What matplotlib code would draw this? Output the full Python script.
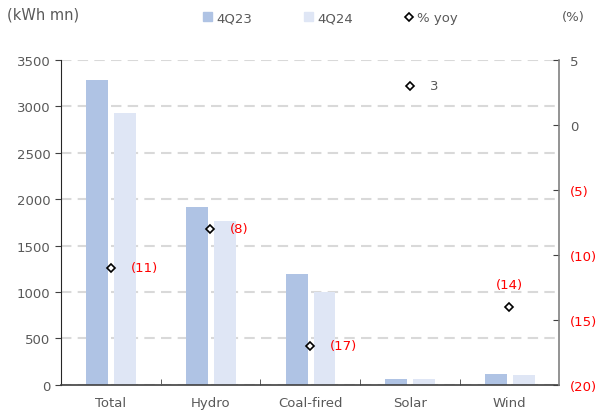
import numpy as np
import matplotlib.pyplot as plt
from matplotlib.lines import Line2D
from matplotlib.patches import Patch

categories = ["Total", "Hydro", "Coal-fired", "Solar", "Wind"]
gen_4q23 = [3285, 1917, 1195, 65, 118]
gen_4q24 = [2929, 1766, 1005, 60, 108]
yoy = [-11, -8, -17, 3, -14]

c23 = "#afc3e4"
c24 = "#dfe6f5"
grey = "#595959"

def pct_label(v):
    return f"({abs(v)})" if v < 0 else f"{v}"

fig = plt.figure(figsize=(5.98, 4.14), dpi=100)
ax = fig.add_axes([0.102, 0.068, 0.833, 0.785])
ax2 = ax.twinx()

x = np.arange(len(categories))
w = 0.22
ax.bar(x - 0.135, gen_4q23, w, color=c23, zorder=2)
ax.bar(x + 0.145, gen_4q24, w, color=c24, zorder=2)

ax.set_xlim(-0.5, len(categories) - 0.5)
ax.set_ylim(0, 3500)
ax.set_yticks(np.arange(0, 3501, 500))
ax.yaxis.grid(True, color="#d9d9d9", linestyle=(0, (5, 3)), linewidth=1.5, zorder=0)
ax.set_axisbelow(True)
ax.set_xticks(x)
ax.set_xticklabels(categories)
ax.set_xticks(np.arange(0.5, len(categories) - 0.5, 1), minor=True)
ax.tick_params(axis="x", which="major", length=0, pad=8, labelsize=9.5, labelcolor=grey)
ax.tick_params(axis="x", which="minor", direction="in", length=4, color="#404040")
ax.tick_params(axis="y", length=4, direction="out", labelsize=9.5, labelcolor=grey, color="#404040")
ax.spines["top"].set_visible(False)
ax.spines["right"].set_visible(False)
ax.spines["left"].set_color("#262626")
ax.spines["bottom"].set_color("#404040")
ax.spines["bottom"].set_linewidth(1.2)

# yoy markers on the secondary axis
ax2.set_ylim(-20, 5)
ax2.set_yticks(np.arange(-20, 6, 5))
ax2.set_yticklabels([pct_label(v) for v in range(-20, 6, 5)])
for t, v in zip(ax2.get_yticklabels(), range(-20, 6, 5)):
    t.set_color("red" if v < 0 else grey)
ax2.tick_params(axis="y", direction="in", length=4, labelsize=9.5, color="#404040", pad=8)
for s in ["top", "left", "bottom"]:
    ax2.spines[s].set_visible(False)
ax2.spines["right"].set_color("#808080")
ax2.spines["right"].set_linewidth(1.2)

mk = dict(linestyle="none", marker="D", markersize=4.5, markerfacecolor="white",
          markeredgecolor="black", markeredgewidth=1.2)
ax2.plot(x, yoy, zorder=5, **mk)
for xi, v in zip(x, yoy):
    col = "red" if v < 0 else grey
    if categories[xi] == "Wind":
        ax2.text(xi, v + 1.2, pct_label(v), color=col, fontsize=9.5, ha="center", va="bottom")
    else:
        ax2.text(xi + 0.2, v, pct_label(v), color=col, fontsize=9.5, ha="left", va="center")

fig.text(0.012, 0.963, "(kWh mn)", color=grey, fontsize=10.5, ha="left", va="center")
fig.text(0.978, 0.957, "(%)", color=grey, fontsize=9.5, ha="right", va="center")

handles = [Patch(color=c23, label="4Q23"), Patch(color=c24, label="4Q24"),
           Line2D([], [], label="% yoy", **mk)]
fig.legend(handles=handles, loc="center", bbox_to_anchor=(0.553, 0.955), ncol=3, frameon=False,
           fontsize=9.5, labelcolor=grey, handlelength=0.7, handleheight=0.7, handletextpad=0.3,
           columnspacing=3.9)

fig.savefig("out.png", dpi=100)
